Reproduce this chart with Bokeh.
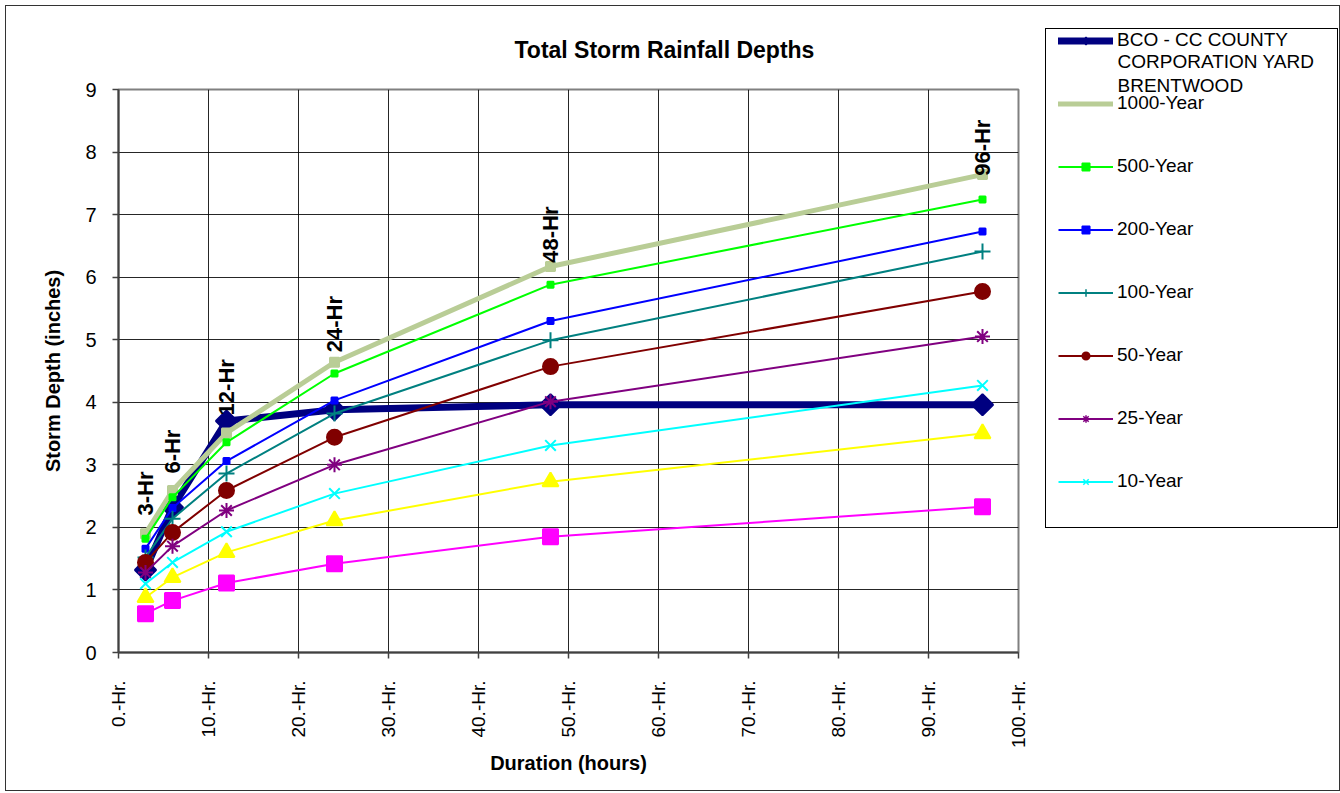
import math
from bokeh.plotting import figure
from bokeh.models import ColumnDataSource, Legend, LegendItem, FixedTicker, Range1d, Label
from bokeh.embed import file_html
from bokeh.resources import INLINE
from bokeh.core.properties import value

# ---------------- data ----------------
durations = [3, 6, 12, 24, 48, 96]
bco = [1.32, 2.32, 3.70, 3.88, 3.96, 3.96]
yr1000 = [1.90, 2.59, 3.51, 4.64, 6.17, 7.64]
yr500 = [1.82, 2.48, 3.36, 4.46, 5.88, 7.24]
yr200 = [1.66, 2.31, 3.06, 4.03, 5.30, 6.73]
yr100 = [1.52, 2.14, 2.86, 3.82, 4.99, 6.41]
yr50 = [1.44, 1.92, 2.59, 3.44, 4.57, 5.77]
yr25 = [1.28, 1.70, 2.27, 3.00, 4.01, 5.05]
yr10 = [1.10, 1.44, 1.93, 2.54, 3.31, 4.27]
yr5 = [0.88, 1.20, 1.60, 2.11, 2.73, 3.50]
yr2 = [0.62, 0.83, 1.11, 1.42, 1.85, 2.33]

station_name = ["BCO - CC COUNTY", "CORPORATION YARD", "BRENTWOOD"]

duration_labels = ["3-Hr", "6-Hr", "12-Hr", "24-Hr", "48-Hr", "96-Hr"]
duration_label_depths = [2.19, 2.86, 3.79, 4.80, 6.23, 7.62]

x_ticks = [0, 10, 20, 30, 40, 50, 60, 70, 80, 90, 100]
x_tick_labels = ["0.-Hr.", "10.-Hr.", "20.-Hr.", "30.-Hr.", "40.-Hr.", "50.-Hr.",
                 "60.-Hr.", "70.-Hr.", "80.-Hr.", "90.-Hr.", "100.-Hr."]
y_ticks = [0, 1, 2, 3, 4, 5, 6, 7, 8, 9]

FONT = "Liberation Sans"
W, H = 1333, 784

p = figure(
    frame_width=900, frame_height=563,
    min_border_left=112, min_border_right=W - 112 - 900,
    min_border_top=83, min_border_bottom=H - 83 - 563,
    x_range=Range1d(0, 100), y_range=Range1d(0, 9),
    output_backend="svg", toolbar_location=None,
    title="Total Storm Rainfall Depths",
    background_fill_color="white", border_fill_color="white",
    styles={"position": "absolute", "left": "5px", "top": "5px",
            "border": "1px solid #333333"},
)

# title
p.title.text_font = FONT
p.title.text_font_size = "23px"
p.title.text_font_style = "bold"
p.title.text_color = "black"
p.title.align = "left"
p.title.offset = 396
p.title.standoff = 54

# frame / grid
p.outline_line_color = "#808080"
p.outline_line_width = 2
for g in (p.xgrid, p.ygrid):
    g.grid_line_color = "black"
    g.grid_line_width = 1
    g.grid_line_alpha = 0.85
p.xgrid.ticker = FixedTicker(ticks=x_ticks)
p.ygrid.ticker = FixedTicker(ticks=y_ticks)

# axes
xa = p.xaxis[0]
xa.ticker = FixedTicker(ticks=x_ticks)
xa.major_label_overrides = {t: l for t, l in zip(x_ticks, x_tick_labels)}
xa.major_label_orientation = math.pi / 2
xa.axis_label = "Duration (hours)"
xa.major_label_standoff = 22
xa.axis_label_standoff = 1

ya = p.yaxis[0]
ya.ticker = FixedTicker(ticks=y_ticks)
ya.axis_label = "Storm Depth (inches)"
ya.major_label_standoff = 16
ya.axis_label_standoff = 18

for ax in (xa, ya):
    ax.axis_line_color = "#404040"
    ax.axis_line_width = 2
    ax.major_tick_line_color = "#404040"
    ax.major_tick_line_width = 1.5
    ax.major_tick_out = 6
    ax.major_tick_in = 0
    ax.minor_tick_line_color = None
    ax.major_label_text_font = FONT
    ax.major_label_text_color = "black"
    ax.axis_label_text_font = FONT
    ax.axis_label_text_font_style = "bold"
    ax.axis_label_text_font_size = "20px"
    ax.axis_label_text_color = "black"
xa.major_label_text_font_size = "19px"
ya.major_label_text_font_size = "20px"

# ---------------- series ----------------
series = [
    # (label, values, color, line width, marker, marker size, angle, legend marker, legend marker size)
    (station_name[0], bco, "#000080", 7, "square", 15, math.pi / 4, "diamond", 13),
    ("1000-Year", yr1000, "#B9CD96", 5, "square", 9, 0, None, 0),
    ("500-Year", yr500, "#00FF00", 2, "square", 6, 0, "square", 5),
    ("200-Year", yr200, "#0000FF", 2, "square", 6, 0, "square", 5),
    ("100-Year", yr100, "#008080", 2, "cross", 16, 0, "cross", 13),
    ("50-Year", yr50, "#800000", 2, "circle", 15, 0, "circle", 13),
    ("25-Year", yr25, "#800080", 2, "asterisk", 15, 0, "asterisk", 12),
    ("10-Year", yr10, "#00FFFF", 2, "x", 15, 0, "x", 12),
    ("5-Year", yr5, "#FFFF00", 2, "triangle", 16, 0, None, None),
    ("2-Year", yr2, "#FF00FF", 2, "square", 15, 0, None, None),
]

# legend panel: a separate small figure placed at the right of the chart
lf = figure(
    width=293, height=500,
    min_border_left=12, min_border_right=0, min_border_top=0, min_border_bottom=0,
    x_axis_location=None, y_axis_location=None,
    x_range=Range1d(1000, 1281), y_range=Range1d(1000, 1500),
    output_backend="svg", toolbar_location=None,
    background_fill_color="white", border_fill_color="white",
    styles={"position": "absolute", "left": "1045px", "top": "28px",
            "border": "1px solid black"},
)
lf.outline_line_color = None
lf.grid.visible = False

items = []
for label, vals, color, lw, marker, msize, ang, lmarker, lsize in series:
    src = ColumnDataSource(data=dict(x=durations, y=vals))
    p.line("x", "y", source=src, line_color=color, line_width=lw, line_join="round")
    p.scatter("x", "y", source=src, marker=marker, size=msize, angle=ang,
              fill_color=color, line_color=color, line_width=2)
    if lsize is not None:
        rends = [lf.line("x", "y", source=src, line_color=color, line_width=lw,
                         line_cap="round" if lw > 3 else "butt")]
        if lmarker is not None:
            rends.append(lf.scatter("x", "y", source=src, marker=lmarker, size=lsize,
                                    fill_color=color, line_color=color, line_width=1.5))
        items.append(LegendItem(label=label, renderers=rends))

# duration annotations
ann = ColumnDataSource(data=dict(x=durations, y=duration_label_depths, t=duration_labels))
p.text("x", "y", text="t", source=ann, angle=math.pi / 2,
       text_font=value(FONT), text_font_style="bold", text_font_size="22px",
       text_color="black", text_align="left", text_baseline="middle")

legend = Legend(
    items=items,
    location="top_left", margin=0,
    label_text_font=FONT, label_text_font_size="19px", label_text_color="black",
    label_text_line_height=1.0,
    glyph_width=55, glyph_height=19, label_height=19, label_standoff=4,
    spacing=41, padding=0,
    border_line_color=None,
    background_fill_color="white", background_fill_alpha=0.0,
)
lf.add_layout(legend, "center")

# continuation lines of the station name in the first legend entry
lf.add_layout(Label(
    x=1059, y=1479, text="\n".join(station_name[1:]),
    text_font=FONT, text_font_size="19px", text_color="black",
    text_line_height=1.15, text_align="left", text_baseline="top",
))

open("out.html", "w").write(file_html([p, lf], INLINE))
